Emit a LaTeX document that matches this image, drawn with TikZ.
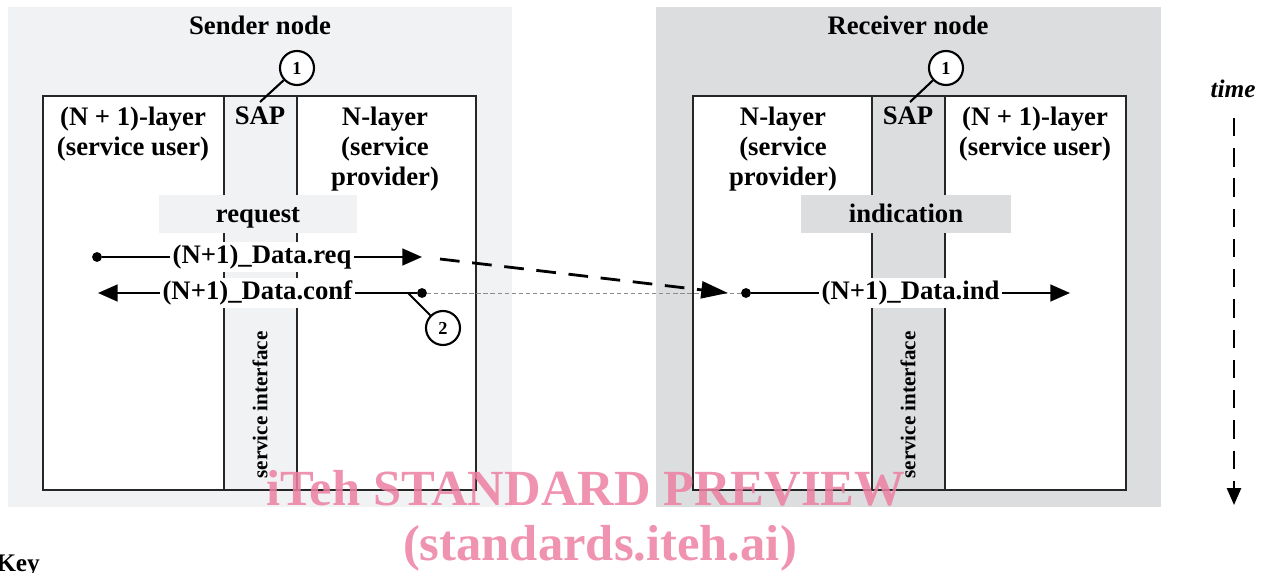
\documentclass[tikz,border=0pt]{standalone}
\usepackage{fontspec}
\setmainfont{Liberation Serif}
\usetikzlibrary{arrows.meta}
\definecolor{sendgray}{RGB}{241,242,244}
\definecolor{recvgray}{RGB}{220,221,223}
\definecolor{stamp}{RGB}{236,128,162}

\begin{document}
\begin{tikzpicture}[x=0.025cm, y=-0.025cm,
  lbl/.style={font=\fontsize{19}{21.3}\selectfont\bfseries, align=center, inner sep=0pt, anchor=north},
  phase/.style={font=\fontsize{19}{21}\selectfont\bfseries, minimum height=0.95cm, inner sep=0pt, text height=12pt, text depth=0pt},
  prim/.style={font=\fontsize{19}{21}\selectfont\bfseries, fill=white, inner sep=2pt},
  tag/.style={draw, circle, fill=white, line width=1.5pt, minimum size=0.85cm, inner sep=0pt, font=\fontsize{13}{13}\selectfont\bfseries},
  endpt/.style={circle, fill=black, inner sep=0pt, minimum size=7pt},
  flow/.style={line width=1.4pt, -{Triangle[length=14pt,width=12pt]}},
  iface/.style={rotate=90, font=\fontsize{15}{15}\selectfont\bfseries},
  layerbox/.style={line width=1.2pt, draw=black!85},
  stampfont/.style={font=\fontsize{36}{36}\selectfont\bfseries, text=stamp, text opacity=0.85, inner sep=0pt, anchor=base}]
\useasboundingbox (0,0) rectangle (1272,573);

\fill[sendgray] (8,7) rectangle (512,507);
\fill[recvgray] (656,7) rectangle (1161,507);

\fill[white] (43,96) rectangle (476,490);
\fill[sendgray] (224,96) rectangle (297,490);
\draw[layerbox] (43,96) rectangle (476,490);
\draw[layerbox] (224,96) -- (224,490) (297,96) -- (297,490);

\fill[white] (693,96) rectangle (1126,490);
\fill[recvgray] (872,96) rectangle (945,490);
\draw[layerbox] (693,96) rectangle (1126,490);
\draw[layerbox] (872,96) -- (872,490) (945,96) -- (945,490);

\node[font=\fontsize{19}{19}\selectfont\bfseries] (sender) at (260,25) {Sender node};
\node[font=\fontsize{19}{19}\selectfont\bfseries] (receiver) at (908,25) {Receiver node};

\node[lbl] (userS) at (133,107) {(N + 1)-layer\\(service user)};
\node[lbl] (sapS) at (260,107) {SAP};
\node[lbl] (provS) at (385,107) {N-layer\\(service\\provider)};

\node[lbl] (provR) at (783,107) {N-layer\\(service\\provider)};
\node[lbl] (sapR) at (908,107) {SAP};
\node[lbl] (userR) at (1035,107) {(N + 1)-layer\\(service user)};

\node[tag] (oneS) at (297,68) {1};
\coordinate (sapTopS) at (260,102);
\draw[line width=1.5pt] (oneS) -- (sapTopS);
\node[tag] (oneR) at (946,68) {1};
\coordinate (sapTopR) at (910,102);
\draw[line width=1.5pt] (oneR) -- (sapTopR);

\node[phase, fill=sendgray, minimum width=4.95cm] (req) at (258,214) {request};
\node[phase, fill=recvgray, minimum width=5.25cm] (ind) at (906,214) {indication};

\node[iface] (ifS) at (260,405) {service interface};
\node[iface] (ifR) at (908,405) {service interface};

\node[endpt] (reqA) at (97,257) {};
\coordinate (reqB) at (422,257);
\draw[flow] (reqA) -- (reqB) node[prim, midway] {(N+1)\_Data.req};

\node[endpt] (confA) at (422,293) {};
\coordinate (confB) at (98,293);
\draw[flow] (confA) -- (confB) node[prim, midway] {(N+1)\_Data.conf};

\node[endpt] (indA) at (746,293) {};
\coordinate (indB) at (1070,293);
\draw[flow] (indA) -- (indB) node[prim, midway] {(N+1)\_Data.ind};

\draw[black!45, line width=0.5pt, dash pattern=on 3pt off 2pt] (confA) -- (indA);
\coordinate (sent) at (440,259);
\coordinate (arrive) at (728,293);
\draw[line width=2pt, dash pattern=on 14pt off 9pt, -{Triangle[length=19pt,width=12pt]}] (sent) -- (arrive);

\coordinate (confTap) at (408,293);
\node[tag] (two) at (443,328) {2};
\draw[line width=1.5pt] (confTap) -- (two);

\node[font=\fontsize{18}{18}\selectfont\bfseries\itshape] (time) at (1233,89) {time};
\coordinate (timeA) at (1234,118);
\coordinate (timeB) at (1234,505);
\draw[line width=1.5pt, dash pattern=on 13pt off 8.5pt, -{Triangle[length=12pt,width=10pt]}] (timeA) -- (timeB);

\node[font=\fontsize{18}{18}\selectfont\bfseries, anchor=base west, inner sep=0pt] (key) at (-4,571) {Key};

\node[stampfont] (wm1) at (586,505) {iTeh STANDARD PREVIEW};
\node[stampfont] (wm2) at (600,560) {(standards.iteh.ai)};
\end{tikzpicture}
\end{document}
